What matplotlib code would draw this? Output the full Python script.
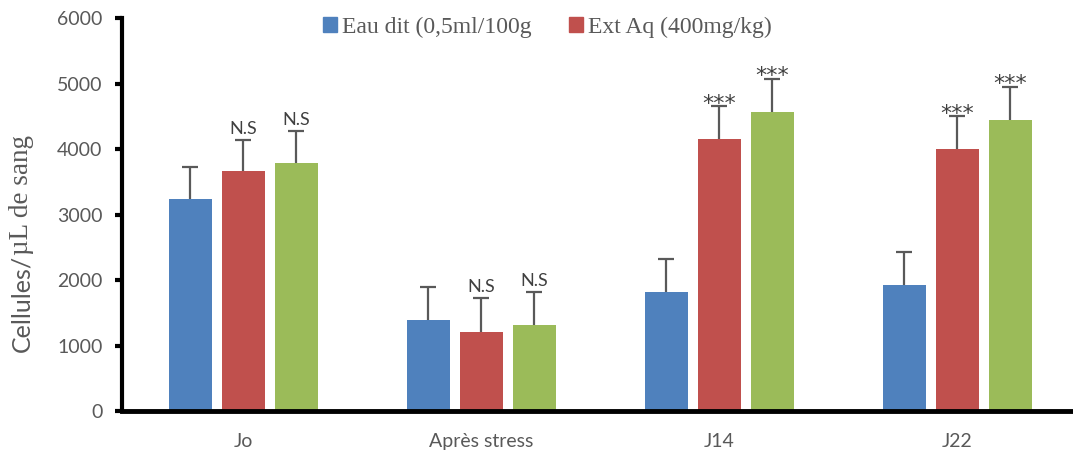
import numpy as np
import matplotlib.pyplot as plt
from matplotlib.patches import Patch

# groupes et moyennes (cellules/µL)
groupes = ["Jo", "Après stress", "J14", "J22"]
eau_dit = [3230, 1390, 1820, 1920]
ext_aq = [3670, 1210, 4150, 4000]
ext_aq_2 = [3780, 1310, 4570, 4450]
err_eau = [500, 500, 500, 500]
err_ext = [470, 510, 500, 500]
err_ext_2 = [500, 500, 500, 500]
sig_ext = ["N.S", "N.S", "***", "***"]
sig_ext_2 = ["N.S", "N.S", "***", "***"]
legende = ["Eau dit (0,5ml/100g", "Ext Aq (400mg/kg)"]

bleu = "#4F81BD"
rouge = "#C0504D"
vert = "#9BBB59"
gris = "#595959"

fig = plt.figure(figsize=(10.73, 4.55), dpi=100)
ax = fig.add_axes([0.1137, 0.0967, 0.887, 0.8637])

x = np.arange(len(groupes))
w = 0.18
dx = 0.223
series = [(eau_dit, err_eau, bleu, None),
          (ext_aq, err_ext, rouge, sig_ext),
          (ext_aq_2, err_ext_2, vert, sig_ext_2)]
for k, (vals, errs, col, sig) in enumerate(series):
    pos = x + (k - 1) * dx
    ax.bar(pos, vals, w, color=col, zorder=2)
    eb = ax.errorbar(pos, vals, yerr=[np.zeros(len(vals)), errs], fmt="none",
                     ecolor=gris, elinewidth=1.6, capsize=6, capthick=1.6, zorder=3)
    eb[1][0].set_visible(False)  # pas de trait en bas
    if sig is None:
        continue
    for p, v, e, s in zip(pos, vals, errs, sig):
        if s == "N.S":
            ax.text(p, v + e + 170, s, ha="center", va="center", fontsize=13,
                    color="#404040", family="Lato")
        else:
            ax.text(p, v + e + 40, s, ha="center", va="center", fontsize=16,
                    color="#404040", family="DejaVu Sans")

ax.set_xlim(-0.51, 3.49)
ax.set_ylim(0, 6000)
ax.set_yticks(range(0, 6001, 1000))
ax.set_xticks(x)
ax.set_xticklabels(groupes)
ax.tick_params(axis="y", direction="out", length=5, width=3, colors="black",
               labelcolor=gris, labelsize=14, pad=9)
ax.tick_params(axis="x", length=0, labelcolor=gris, labelsize=14, pad=16)
for lab in ax.get_xticklabels() + ax.get_yticklabels():
    lab.set_family("Lato")
for s in ["top", "right"]:
    ax.spines[s].set_visible(False)
ax.spines["left"].set_linewidth(3)
ax.spines["bottom"].set_linewidth(3.5)

# titre de l'axe y en deux morceaux (deux polices), le second collé au premier
t1 = fig.text(0.02, 1 - 352 / 455, "Cellules/", rotation=90, ha="center",
              va="bottom", family="Lato", fontsize=18, color=gris)
fig.canvas.draw()
bb = t1.get_window_extent().transformed(fig.transFigure.inverted())
fig.text(0.02, bb.y1, "µL de sang", rotation=90, ha="center",
         va="bottom", family="Liberation Serif", fontsize=19.5, color=gris)

handles = [Patch(color=bleu), Patch(color=rouge)]
fig.legend(handles, legende, loc="center", bbox_to_anchor=(0.51, 0.94), ncol=2,
           frameon=False, prop={"family": "Liberation Serif", "size": 17},
           handlelength=0.6, handleheight=0.6, handletextpad=0.2,
           columnspacing=1.6, labelcolor=gris)

fig.savefig("out.png", dpi=100)
